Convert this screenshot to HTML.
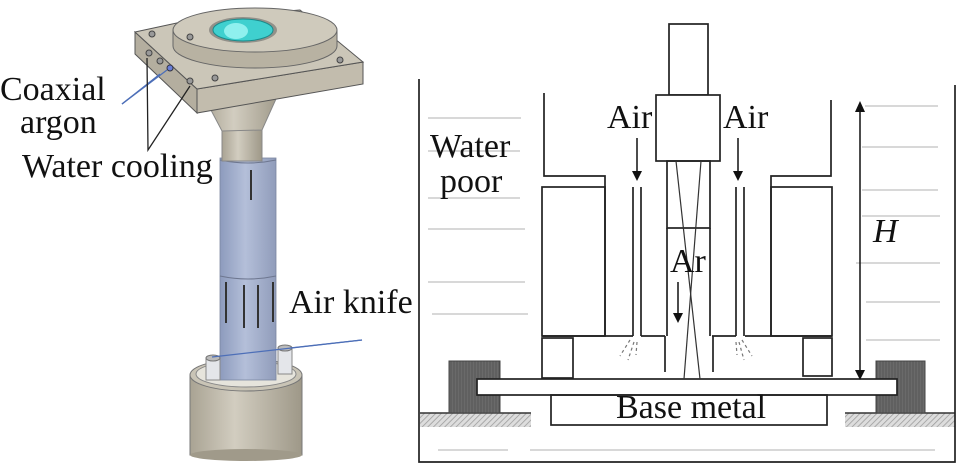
<!DOCTYPE html>
<html><head><meta charset="utf-8"><style>
html,body{margin:0;padding:0;background:#fff;}
svg{display:block;}
text{font-family:"Liberation Serif",serif;font-size:34px;fill:#111;}
</style></head><body>
<svg width="961" height="465" viewBox="0 0 961 465" xmlns="http://www.w3.org/2000/svg">
<defs>
<linearGradient id="tube" x1="0" x2="1"><stop offset="0" stop-color="#8d9bbd"/><stop offset="0.45" stop-color="#b4bfd9"/><stop offset="1" stop-color="#909cba"/></linearGradient>
<linearGradient id="gry" x1="0" x2="1"><stop offset="0" stop-color="#a9a393"/><stop offset="0.4" stop-color="#d2cdc0"/><stop offset="1" stop-color="#9e9888"/></linearGradient>
<pattern id="hatch" width="4" height="4" patternUnits="userSpaceOnUse" patternTransform="rotate(45)"><rect width="4" height="4" fill="#ddd"/><line x1="0" y1="0" x2="0" y2="4" stroke="#999" stroke-width="1.5"/></pattern>
<pattern id="vl" width="3" height="3" patternUnits="userSpaceOnUse"><rect width="3" height="3" fill="#6a6a6a"/><line x1="1" y1="0" x2="1" y2="3" stroke="#555" stroke-width="1"/></pattern>
</defs>
<!-- LEFT PANEL -->
<rect x="190" y="375" width="112" height="80" fill="url(#gry)" stroke="#777" stroke-width="1"/>
<ellipse cx="246" cy="455" rx="56" ry="6" fill="#a09a8a"/>
<ellipse cx="246" cy="375" rx="56" ry="16" fill="#c9c4b6" stroke="#777"/>
<ellipse cx="246" cy="374" rx="50" ry="13" fill="#e6e4dc" stroke="#888"/>
<rect x="220" y="158" width="56" height="222" fill="url(#tube)" stroke="#7a86a0" stroke-width="0.8"/>
<path d="M220 276 Q248 282 276 276" stroke="#6e7790" fill="none"/>
<path d="M220 160 Q248 166 276 160" stroke="#6e7790" fill="none"/>
<g stroke="#333" stroke-width="2">
<line x1="251" y1="170" x2="251" y2="200"/><line x1="226" y1="282" x2="226" y2="323"/><line x1="244" y1="285" x2="244" y2="328"/><line x1="258" y1="285" x2="258" y2="328"/><line x1="273" y1="282" x2="273" y2="322"/>
</g>
<rect x="206" y="358" width="14" height="22" fill="#e4e6ea" stroke="#888"/>
<ellipse cx="213" cy="358" rx="7" ry="3" fill="#bbb" stroke="#777"/>
<rect x="278" y="348" width="14" height="26" fill="#e4e6ea" stroke="#888"/>
<ellipse cx="285" cy="348" rx="7" ry="3" fill="#bbb" stroke="#777"/>
<rect x="222" y="128" width="40" height="33" fill="url(#gry)" stroke="#888"/>
<path d="M203 95 L280 90 L262 130 L222 131 Z" fill="url(#gry)" stroke="#888"/>
<path d="M135 32 L197 89 L197 113 L135 54 Z" fill="#b4ae9f" stroke="#555"/>
<path d="M197 89 L363 62 L363 84 L197 113 Z" fill="#c2bcad" stroke="#555"/>
<path d="M135 32 L200 18 L300 10 L363 62 L197 89 Z" fill="#cbc6b8" stroke="#555"/>
<path d="M173 30 L173 46 A82 22 0 0 0 337 46 L337 30 Z" fill="#b8b2a2" stroke="#666"/>
<ellipse cx="255" cy="30" rx="82" ry="22" fill="#cfcabc" stroke="#666"/>
<ellipse cx="243" cy="30" rx="34" ry="13" fill="#555" opacity="0.5"/>
<ellipse cx="243" cy="30" rx="30" ry="11" fill="#3fd0cf" stroke="#1a8a8a"/>
<ellipse cx="236" cy="31" rx="12" ry="8" fill="#8ff0ee"/>
<g fill="#999" stroke="#444" stroke-width="1"><circle cx="152" cy="34" r="3"/><circle cx="190" cy="37" r="3"/><circle cx="340" cy="60" r="3"/><circle cx="215" cy="78" r="3"/>
<circle cx="149" cy="53" r="3"/><circle cx="160" cy="61" r="3"/><circle cx="190" cy="81" r="3"/></g>
<circle cx="170" cy="68" r="3" fill="#6a7fd8" stroke="#334"/>
<g stroke="#4d6fb8" stroke-width="1.3" fill="none"><line x1="122" y1="104" x2="167" y2="70"/><line x1="122" y1="104" x2="160" y2="74"/>
<line x1="362" y1="340" x2="212" y2="357"/><line x1="362" y1="340" x2="290" y2="348"/></g>
<g stroke="#222" stroke-width="1.3" fill="none"><polyline points="147,58 148,150 190,86"/></g>
<text x="0" y="100">Coaxial</text>
<text x="20" y="133">argon</text>
<text x="22" y="177">Water cooling</text>
<text x="289" y="313">Air knife</text>
<!-- RIGHT PANEL -->
<g stroke="#ccc" stroke-width="1.5">
<line x1="428" y1="118" x2="521" y2="118"/><line x1="428" y1="151" x2="520" y2="151"/><line x1="428" y1="198" x2="520" y2="198"/><line x1="428" y1="229" x2="525" y2="229"/><line x1="428" y1="282" x2="525" y2="282"/><line x1="432" y1="314" x2="528" y2="314"/>
<line x1="865" y1="106" x2="938" y2="106"/><line x1="862" y1="147" x2="938" y2="147"/><line x1="862" y1="190" x2="938" y2="190"/><line x1="862" y1="216" x2="940" y2="216"/><line x1="856" y1="263" x2="940" y2="263"/><line x1="866" y1="302" x2="940" y2="302"/><line x1="866" y1="340" x2="940" y2="340"/>
<line x1="438" y1="450" x2="508" y2="450"/><line x1="530" y1="450" x2="935" y2="450"/>
</g>
<rect x="420" y="413" width="111" height="14" fill="url(#hatch)"/>
<rect x="845" y="413" width="110" height="14" fill="url(#hatch)"/>
<line x1="420" y1="413" x2="531" y2="413" stroke="#333" stroke-width="1.5"/>
<line x1="845" y1="413" x2="955" y2="413" stroke="#333" stroke-width="1.5"/>
<rect x="449" y="361" width="51" height="52" fill="url(#vl)" stroke="#444"/>
<rect x="876" y="361" width="49" height="52" fill="url(#vl)" stroke="#444"/>
<g stroke="#222" stroke-width="1.7" fill="none">
<polyline points="419,79 419,462 955,462 955,85"/>
<rect x="669" y="24" width="39" height="71"/>
<rect x="656" y="95" width="64" height="66" fill="#fff"/>
<rect x="667" y="161" width="43" height="67"/>
<polyline points="544,93 544,176 605,176 605,336"/>
<rect x="542" y="187" width="63" height="149"/>
<line x1="542" y1="336" x2="633" y2="336"/>
<rect x="542" y="338" width="31" height="40"/>
<line x1="633" y1="187" x2="633" y2="336"/><line x1="641" y1="187" x2="641" y2="336"/>
<line x1="641" y1="336" x2="665" y2="336"/><line x1="665" y1="336" x2="665" y2="372"/>
<line x1="667" y1="228" x2="667" y2="336"/>
<polyline points="831,100 831,176 771,176 771,336"/>
<rect x="771" y="187" width="61" height="149"/>
<line x1="745" y1="336" x2="832" y2="336"/>
<rect x="803" y="338" width="29" height="38"/>
<line x1="736" y1="187" x2="736" y2="336"/><line x1="744" y1="187" x2="744" y2="336"/>
<line x1="712" y1="336" x2="736" y2="336"/><line x1="713" y1="336" x2="713" y2="372"/>
<line x1="710" y1="228" x2="710" y2="336"/>
<rect x="477" y="379" width="420" height="16" fill="#fff"/>
<rect x="551" y="395" width="276" height="30"/>
</g>
<g stroke="#333" stroke-width="1.2"><line x1="676" y1="161" x2="700" y2="379"/><line x1="701" y1="161" x2="684" y2="379"/></g>
<g stroke="#777" stroke-width="1.2" stroke-dasharray="3,3"><line x1="630" y1="340" x2="620" y2="356"/><line x1="634" y1="342" x2="628" y2="360"/><line x1="637" y1="342" x2="636" y2="355"/>
<line x1="742" y1="340" x2="752" y2="356"/><line x1="739" y1="342" x2="744" y2="360"/><line x1="736" y1="342" x2="737" y2="355"/></g>
<g stroke="#111" stroke-width="1.5"><line x1="637" y1="138" x2="637" y2="172"/><line x1="738" y1="138" x2="738" y2="172"/><line x1="678" y1="282" x2="678" y2="314"/><line x1="860" y1="110" x2="860" y2="372"/></g>
<g fill="#111"><path d="M632 171 L642 171 L637 181 Z"/><path d="M733 171 L743 171 L738 181 Z"/><path d="M673 313 L683 313 L678 323 Z"/><path d="M855 112 L865 112 L860 101 Z"/><path d="M855 370 L865 370 L860 380 Z"/></g>
<text x="607" y="128">Air</text>
<text x="723" y="128">Air</text>
<text x="430" y="157">Water</text>
<text x="440" y="192">poor</text>
<text x="873" y="242" font-style="italic">H</text>
<text x="670" y="272">Ar</text>
<text x="616" y="418">Base metal</text>
</svg>
</body></html>
